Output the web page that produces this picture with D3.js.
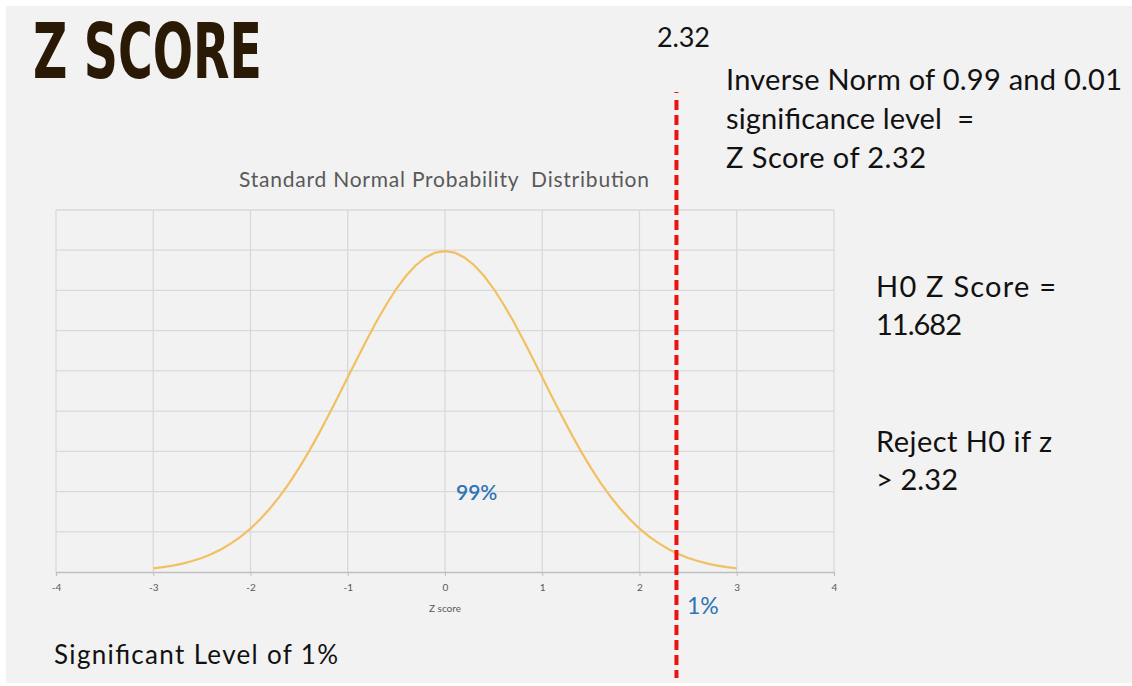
<!DOCTYPE html>
<html>
<head>
<meta charset="utf-8">
<script src="https://cdn.jsdelivr.net/npm/d3@7/dist/d3.min.js"></script>
<style>
  html, body { margin: 0; padding: 0; background: #ffffff; }
  svg { display: block; }
  text { white-space: pre; }
</style>
</head>
<body>
<svg id="chart" width="1132" height="686"></svg>
<script>
// ---- data ----
const zValues = [-3.0,-2.9,-2.8,-2.7,-2.6,-2.5,-2.4,-2.3,-2.2,-2.1,-2.0,-1.9,-1.8,-1.7,-1.6,-1.5,-1.4,-1.3,-1.2,-1.1,-1.0,
  -0.9,-0.8,-0.7,-0.6,-0.5,-0.4,-0.3,-0.2,-0.1,0.0,0.1,0.2,0.3,0.4,0.5,0.6,0.7,0.8,0.9,1.0,
  1.1,1.2,1.3,1.4,1.5,1.6,1.7,1.8,1.9,2.0,2.1,2.2,2.3,2.4,2.5,2.6,2.7,2.8,2.9,3.0];
const densityValues = [0.0044,0.0060,0.0079,0.0104,0.0136,0.0175,0.0224,0.0283,0.0355,0.0440,0.0540,0.0656,0.0790,0.0940,0.1109,0.1295,0.1497,0.1714,0.1942,0.2179,0.2420,
  0.2661,0.2897,0.3123,0.3332,0.3521,0.3683,0.3814,0.3910,0.3970,0.3989,0.3970,0.3910,0.3814,0.3683,0.3521,0.3332,0.3123,0.2897,0.2661,0.2420,
  0.2179,0.1942,0.1714,0.1497,0.1295,0.1109,0.0940,0.0790,0.0656,0.0540,0.0440,0.0355,0.0283,0.0224,0.0175,0.0136,0.0104,0.0079,0.0060,0.0044];
const xTicks = [-4,-3,-2,-1,0,1,2,3,4];
const xTickLabels = ["-4","-3","-2","-1","0","1","2","3","4"];
const yGridValues = [0,0.05,0.10,0.15,0.20,0.25,0.30,0.35,0.40,0.45];
const criticalZ = [2.38];          // where the dashed line sits in the picture
const chartTitle = "Standard Normal Probability  Distribution";
const xAxisTitle = "Z score";
const pageTitle = "Z SCORE";
const criticalLabel = "2.32";
const noteLines = ["Inverse Norm of 0.99 and 0.01", "significance level  =", "Z Score of 2.32"];
const h0Lines = ["H0 Z Score =", "11.682"];
const rejectLines = ["Reject H0 if z", "> 2.32"];
const bottomNote = "Significant Level of 1%";
const areaLabels = ["99%", "1%"];

// ---- drawing ----
const svg = d3.select("#chart");
const FONT = "Lato, 'Open Sans', sans-serif";

svg.append("rect").attr("x", 6).attr("y", 6).attr("width", 1126).attr("height", 677).attr("fill", "#f2f2f2");

const x = d3.scaleLinear().domain([-4, 4]).range([56, 834]);
const y = d3.scaleLinear().domain([0, 0.45]).range([572, 210]);

const g = svg.append("g");

// grid
g.selectAll("line.hgrid").data(yGridValues.slice(1)).join("line")
  .attr("x1", x(-4)).attr("x2", x(4))
  .attr("y1", d => y(d)).attr("y2", d => y(d))
  .attr("stroke", "#d9d9d9").attr("stroke-width", 1.3);
g.selectAll("line.vgrid").data(xTicks).join("line")
  .attr("x1", d => x(d)).attr("x2", d => x(d))
  .attr("y1", y(0)).attr("y2", y(0.45))
  .attr("stroke", "#d9d9d9").attr("stroke-width", 1.3);

// x axis
const xAxis = d3.axisBottom(x).tickValues(xTicks).tickFormat((d, i) => xTickLabels[i]).tickSize(4).tickPadding(8);
const ax = g.append("g").attr("transform", `translate(0,${y(0)})`).call(xAxis);
ax.select(".domain").attr("stroke", "#bfbfbf").attr("stroke-width", 1.3);
ax.selectAll(".tick line").attr("stroke", "#bfbfbf");
ax.selectAll(".tick text").attr("fill", "#595959").style("font-family", FONT).style("font-size", "10px");

// axis title
g.append("text").attr("x", x(0)).attr("y", 612).attr("text-anchor", "middle")
  .attr("fill", "#595959").style("font-family", FONT).style("font-size", "10px").text(xAxisTitle);

// chart title
g.append("text").attr("x", 239).attr("y", 187)
  .attr("textLength", 410).attr("lengthAdjust", "spacing")
  .attr("fill", "#595959").style("font-family", FONT).style("font-size", "21px").text(chartTitle);

// curve
const pts = zValues.map((z, i) => [z, densityValues[i]]);
g.append("path").datum(pts)
  .attr("fill", "none").attr("stroke", "#f1c062").attr("stroke-width", 2.2)
  .attr("d", d3.line().x(d => x(d[0])).y(d => y(d[1])));

// critical dashed line
const dashes = ["1 7"].concat(d3.range(40).map(() => "10 5")).join(" ");
svg.selectAll("line.crit").data(criticalZ).join("line")
  .attr("x1", d => x(d)).attr("x2", d => x(d))
  .attr("y1", 92).attr("y2", 678)
  .attr("stroke", "#ee1111").attr("stroke-width", 4)
  .attr("stroke-dasharray", dashes);

// area labels
g.append("text").attr("x", 456).attr("y", 500)
  .attr("fill", "#2e75b6").style("font-family", FONT).style("font-weight", "600").style("font-size", "21px").text(areaLabels[0]);
g.append("text").attr("x", 687).attr("y", 614)
  .attr("fill", "#2e75b6").style("font-family", FONT).style("font-size", "23px").text(areaLabels[1]);

// big title
svg.append("text").attr("x", 33).attr("y", 78)
  .attr("fill", "#2a1a05").style("font-family", "'Liberation Sans Narrow', 'DejaVu Sans Condensed', sans-serif")
  .style("font-weight", "bold").style("font-size", "76px")
  .attr("textLength", 229).attr("lengthAdjust", "spacingAndGlyphs").text(pageTitle);

// annotations
function lines(arr, widths, x0, y0, dy, size) {
  svg.append("g").selectAll("text").data(arr).join("text")
    .attr("x", x0).attr("y", (d, i) => y0 + i * dy)
    .attr("textLength", (d, i) => widths[i]).attr("lengthAdjust", "spacing")
    .attr("fill", "#111").style("font-family", FONT).style("font-size", size + "px").text(d => d);
}
lines([criticalLabel], [53], 657, 47, 0, 27);
lines(noteLines, [396, 248, 200], 726, 90, 39, 29);
lines(h0Lines, [180, 86], 876, 297, 38, 29);
lines(rejectLines, [176, 82], 876, 452, 38, 29);
lines([bottomNote], [284], 54, 664, 0, 26);
</script>
</body>
</html>
